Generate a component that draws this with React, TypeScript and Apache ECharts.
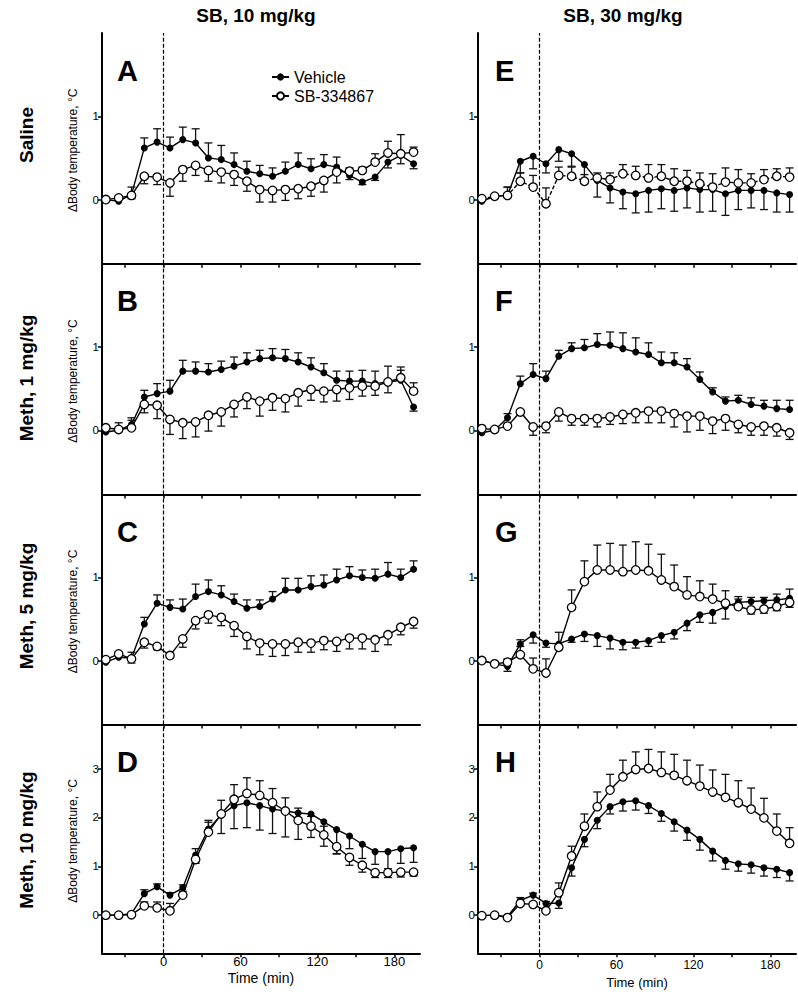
import React, { useEffect, useRef } from "react";
import * as echarts from "echarts";

// ---------- data ----------
const TIME = [-45, -35, -25, -15, -5, 5, 15, 25, 35, 45, 55, 65, 75, 85, 95, 105, 115, 125, 135, 145, 155, 165, 175, 185, 195];

const X_TICKS = [-30, 0, 30, 60, 90, 120, 150, 180];
const X_LABELS = [0, 60, 120, 180];
const Y_LABELS_SMALL = [0, 1];
const Y_LABELS_BIG = [0, 1, 2, 3];

const COLUMN_TITLES = ["SB, 10 mg/kg", "SB, 30 mg/kg"];
const ROW_TITLES = ["Saline", "Meth, 1 mg/kg", "Meth, 5 mg/kg", "Meth, 10 mg/kg"];
const LETTERS = ["A", "B", "C", "D", "E", "F", "G", "H"];
const SERIES_NAMES = ["Vehicle", "SB-334867"];
const Y_NAME = "ΔBody temperature, °C";
const X_NAME = "Time (min)";

// Panel A (Saline, SB 10)
const vehA = [0, -0.02, 0.06, 0.62, 0.69, 0.62, 0.72, 0.68, 0.5, 0.48, 0.42, 0.34, 0.31, 0.28, 0.34, 0.42, 0.37, 0.42, 0.39, 0.29, 0.21, 0.27, 0.45, 0.53, 0.43];
const vehAErr = [0, 0, 0.09, 0.12, 0.16, 0.13, 0.15, 0.17, 0.18, 0.17, 0.14, 0.12, 0.1, 0.1, 0.11, 0.14, 0.12, 0.12, 0.12, -0.05, -0.03, -0.04, -0.07, -0.1, -0.06];
const sbA = [0, 0.02, 0.05, 0.28, 0.27, 0.2, 0.36, 0.41, 0.35, 0.33, 0.3, 0.22, 0.12, 0.11, 0.12, 0.13, 0.16, 0.23, 0.33, 0.34, 0.35, 0.45, 0.56, 0.55, 0.57];
const sbAErr = [0, 0, -0.04, -0.09, -0.09, -0.16, -0.14, -0.12, -0.13, -0.13, -0.13, -0.12, -0.15, -0.14, -0.13, -0.12, -0.12, -0.14, -0.13, 0.04, 0.04, 0.1, 0.14, 0.23, 0.06];

// Panel B (Meth 1, SB 10)
const vehB = [-0.02, 0, 0.07, 0.4, 0.44, 0.47, 0.71, 0.71, 0.7, 0.73, 0.77, 0.82, 0.86, 0.87, 0.86, 0.82, 0.76, 0.69, 0.6, 0.59, 0.59, 0.56, 0.58, 0.6, 0.28];
const vehBErr = [0, 0, 0.05, 0.08, 0.12, 0.13, 0.13, 0.11, 0.1, 0.1, 0.11, 0.11, 0.1, 0.11, 0.11, 0.11, 0.11, 0.11, 0.11, 0.12, 0.13, 0.15, 0.19, 0.12, -0.05];
const sbB = [0.03, 0.01, 0.03, 0.31, 0.3, 0.13, 0.09, 0.1, 0.18, 0.22, 0.31, 0.4, 0.35, 0.39, 0.38, 0.45, 0.49, 0.47, 0.49, 0.51, 0.53, 0.53, 0.58, 0.63, 0.47];
const sbBErr = [0, 0.08, 0.12, -0.1, -0.16, -0.18, -0.19, -0.18, -0.19, -0.17, -0.15, -0.14, -0.18, -0.15, -0.16, -0.16, -0.13, -0.13, -0.14, -0.14, -0.12, -0.11, -0.13, 0.13, 0.1];

// Panel C (Meth 5, SB 10)
const vehC = [-0.02, 0.04, 0.03, 0.44, 0.69, 0.64, 0.62, 0.77, 0.83, 0.79, 0.71, 0.63, 0.65, 0.74, 0.85, 0.85, 0.89, 0.91, 0.97, 1.02, 1.0, 0.99, 1.04, 1.0, 1.1];
const vehCErr = [0, 0, 0.07, 0.08, 0.1, 0.09, 0.12, 0.15, 0.14, 0.11, 0.09, 0.1, 0.08, 0.09, 0.14, 0.14, 0.13, 0.12, 0.13, 0.11, 0.09, 0.11, 0.14, 0.1, 0.1];
const sbC = [0.01, 0.08, 0.02, 0.22, 0.17, 0.06, 0.26, 0.48, 0.55, 0.52, 0.42, 0.29, 0.21, 0.2, 0.2, 0.22, 0.21, 0.24, 0.23, 0.27, 0.27, 0.25, 0.31, 0.4, 0.47];
const sbCErr = [0, 0, -0.05, -0.07, -0.04, -0.03, -0.1, -0.1, -0.1, -0.1, -0.13, -0.15, -0.14, -0.15, -0.14, -0.12, -0.11, -0.11, -0.12, -0.13, -0.13, -0.14, -0.12, -0.09, -0.08];

// Panel D (Meth 10, SB 10)
const vehD = [0, 0, 0.03, 0.44, 0.58, 0.41, 0.56, 1.23, 1.76, 2.05, 2.24, 2.3, 2.24, 2.17, 2.13, 2.09, 2.07, 1.91, 1.75, 1.62, 1.45, 1.3, 1.3, 1.36, 1.38];
const vehDErr = [0, 0, 0, 0.08, 0.06, 0.05, 0.06, 0.13, 0.18, -0.38, -0.47, -0.51, -0.5, -0.5, -0.53, -0.54, -0.48, -0.5, -0.5, -0.26, -0.29, -0.26, -0.35, -0.3, -0.3];
const sbD = [0, 0, 0.01, 0.19, 0.15, 0.09, 0.41, 1.14, 1.7, 2.07, 2.37, 2.49, 2.45, 2.3, 2.13, 1.94, 1.82, 1.64, 1.4, 1.18, 1.02, 0.87, 0.87, 0.88, 0.88];
const sbDErr = [0, 0, 0, 0.08, 0.12, 0.15, 0.08, -0.08, 0.2, 0.28, 0.3, 0.32, 0.3, 0.29, 0.27, 0.25, 0.2, 0.18, -0.14, -0.16, -0.14, -0.1, -0.1, -0.1, -0.08];

// Panel E (Saline, SB 30)
const vehE = [-0.02, 0.04, 0.05, 0.46, 0.52, 0.43, 0.6, 0.55, 0.42, 0.23, 0.14, 0.09, 0.07, 0.11, 0.13, 0.11, 0.14, 0.12, 0.12, 0.07, 0.11, 0.11, 0.11, 0.08, 0.06];
const vehEErr = [0, 0, 0.1, -0.14, -0.15, -0.11, -0.14, -0.15, -0.18, -0.2, -0.18, -0.2, -0.23, -0.26, -0.24, -0.25, -0.24, -0.27, -0.26, -0.26, -0.23, -0.21, -0.23, -0.23, -0.21];
const sbE = [0.01, 0.04, 0.05, 0.22, 0.15, -0.05, 0.29, 0.28, 0.22, 0.26, 0.24, 0.31, 0.29, 0.26, 0.28, 0.22, 0.22, 0.19, 0.15, 0.21, 0.2, 0.2, 0.24, 0.28, 0.27];
const sbEErr = [0, 0, 0.1, 0.1, 0.14, 0.19, 0.1, 0.11, 0.08, 0.06, 0.08, 0.11, 0.11, 0.16, 0.14, 0.15, 0.13, 0.13, 0.16, 0.17, 0.16, 0.11, 0.12, 0.09, 0.11];

// Panel F (Meth 1, SB 30)
const vehF = [-0.03, 0, 0.15, 0.56, 0.67, 0.62, 0.89, 0.98, 0.99, 1.03, 1.02, 0.98, 0.94, 0.91, 0.81, 0.81, 0.76, 0.61, 0.46, 0.35, 0.36, 0.31, 0.29, 0.26, 0.25];
const vehFErr = [0, 0, 0.05, 0.09, 0.13, 0.09, 0.07, 0.07, 0.1, 0.13, 0.16, 0.19, 0.17, 0.14, 0.13, 0.12, 0.1, 0.09, 0.05, 0.05, 0.06, 0.08, 0.07, 0.1, 0.11];
const sbF = [0.02, 0.01, 0.05, 0.22, 0.04, 0.05, 0.22, 0.14, 0.14, 0.14, 0.16, 0.19, 0.21, 0.23, 0.23, 0.2, 0.17, 0.17, 0.11, 0.14, 0.07, 0.04, 0.05, 0.03, -0.03];
const sbFErr = [0, 0, 0, -0.04, -0.1, -0.08, -0.11, -0.08, -0.08, -0.1, -0.09, -0.11, -0.12, -0.14, -0.14, -0.16, -0.19, -0.17, -0.15, -0.14, -0.1, -0.1, -0.11, -0.1, -0.08];

// Panel G (Meth 5, SB 30)
const vehG = [0, -0.04, -0.07, 0.2, 0.31, 0.21, 0.2, 0.26, 0.32, 0.3, 0.27, 0.22, 0.22, 0.24, 0.3, 0.34, 0.45, 0.55, 0.58, 0.65, 0.7, 0.71, 0.72, 0.73, 0.75];
const vehGErr = [0, 0, -0.06, 0.05, -0.1, -0.05, 0, -0.04, -0.09, -0.13, -0.13, -0.09, -0.07, -0.07, -0.08, -0.08, -0.09, -0.09, -0.13, -0.15, 0.07, 0.05, 0.04, 0.07, 0.11];
const sbG = [0, -0.04, -0.02, 0.07, -0.1, -0.15, 0.16, 0.64, 0.95, 1.09, 1.09, 1.07, 1.09, 1.08, 0.97, 0.89, 0.79, 0.77, 0.74, 0.69, 0.65, 0.61, 0.62, 0.65, 0.7];
const sbGErr = [0, 0, 0.04, 0.1, 0.13, 0.17, 0.18, 0.21, 0.25, 0.3, 0.32, 0.32, 0.34, 0.32, 0.31, 0.26, 0.22, 0.19, 0.18, 0.15, 0.09, -0.05, -0.05, -0.05, -0.06];

// Panel H (Meth 10, SB 30)
const vehH = [-0.01, 0, -0.03, 0.3, 0.41, 0.24, 0.25, 0.97, 1.55, 1.94, 2.22, 2.32, 2.34, 2.24, 2.08, 1.91, 1.74, 1.55, 1.31, 1.12, 1.05, 1.03, 0.97, 0.94, 0.87];
const vehHErr = [0, 0, 0, 0.06, 0.04, 0.04, -0.11, -0.17, -0.15, -0.17, -0.15, -0.19, -0.19, -0.16, -0.16, -0.19, -0.21, -0.22, -0.2, -0.18, -0.15, -0.17, -0.17, -0.17, -0.17];
const sbH = [-0.01, 0, -0.05, 0.24, 0.22, 0.09, 0.46, 1.21, 1.82, 2.22, 2.56, 2.83, 2.98, 3.0, 2.92, 2.86, 2.75, 2.64, 2.52, 2.41, 2.3, 2.17, 1.99, 1.72, 1.47];
const sbHErr = [0, 0, 0, 0.04, 0.04, 0.04, 0.2, 0.2, 0.25, 0.3, 0.32, 0.34, 0.36, 0.39, 0.42, 0.43, 0.42, 0.43, 0.45, 0.47, 0.45, 0.43, 0.4, 0.35, 0.32];

const PANEL_DATA = [
  [vehA, vehAErr, sbA, sbAErr],
  [vehB, vehBErr, sbB, sbBErr],
  [vehC, vehCErr, sbC, sbCErr],
  [vehD, vehDErr, sbD, sbDErr],
  [vehE, vehEErr, sbE, sbEErr],
  [vehF, vehFErr, sbF, sbFErr],
  [vehG, vehGErr, sbG, sbGErr],
  [vehH, vehHErr, sbH, sbHErr],
];

// ---------- layout ----------
const FONT = '"Liberation Sans", Arial, Helvetica, sans-serif';
const COL_LEFT = [102, 478];
const GRID_W = 318;
const ROW_TOP = [33, 263.7, 494.4, 724.5];
const ROW_H = [230.7, 230.7, 230.1, 228.8];

function errRender(params: any, api: any) {
  const x = api.value(0);
  const y = api.value(1);
  const e = api.value(2);
  if (!e) return null;
  const p0 = api.coord([x, y]);
  const p1 = api.coord([x, y + e]);
  const st = { stroke: "#111", lineWidth: 1.3 };
  return {
    type: "group",
    children: [
      { type: "line", shape: { x1: p0[0], y1: p0[1], x2: p1[0], y2: p1[1] }, style: st },
      { type: "line", shape: { x1: p1[0] - 4, y1: p1[1], x2: p1[0] + 4, y2: p1[1] }, style: st },
    ],
  };
}

function buildOption() {
  const grid: any[] = [];
  const xAxis: any[] = [];
  const yAxis: any[] = [];
  const series: any[] = [];
  const graphic: any[] = [];

  for (let p = 0; p < 8; p++) {
    const col = p < 4 ? 0 : 1;
    const row = p % 4;
    const big = row === 3;
    grid.push({ left: COL_LEFT[col], top: ROW_TOP[row], width: GRID_W, height: ROW_H[row], containLabel: false });
    xAxis.push({
      gridIndex: p,
      type: "value",
      min: -48,
      max: 200,
      axisLine: { show: true, onZero: false, lineStyle: { color: "#000", width: 2 } },
      axisTick: { show: true, length: 4, customValues: X_TICKS, lineStyle: { color: "#000", width: 1.5 } },
      axisLabel: {
        show: big,
        customValues: X_LABELS,
        color: "#000",
        fontFamily: FONT,
        fontSize: col === 0 ? 13 : 12,
        margin: col === 0 ? 2 : 6,
      },
      splitLine: { show: false },
      name: big ? X_NAME : "",
      nameLocation: "middle",
      nameGap: col === 0 ? 18 : 23,
      nameTextStyle: { color: "#000", fontFamily: FONT, fontSize: col === 0 ? 14 : 13 },
    });
    const yl = big ? Y_LABELS_BIG : Y_LABELS_SMALL;
    yAxis.push({
      gridIndex: p,
      type: "value",
      min: big ? -0.78 : -0.77,
      max: big ? 3.9 : 2.0,
      axisLine: { show: true, onZero: false, lineStyle: { color: "#000", width: 2 } },
      axisTick: { show: true, length: 4, customValues: yl, lineStyle: { color: "#000", width: 1.5 } },
      axisLabel: { show: true, customValues: yl, color: "#000", fontFamily: FONT, fontSize: 11.5, margin: 3 },
      splitLine: { show: false },
    });

    const [veh, vehErr, sb, sbErr] = PANEL_DATA[p];
    series.push({
      type: "custom",
      name: "err-veh-" + p,
      xAxisIndex: p,
      yAxisIndex: p,
      silent: true,
      z: 2,
      renderItem: errRender,
      encode: { x: 0, y: 1 },
      data: TIME.map((t, i) => [t, veh[i], vehErr[i]]),
    });
    series.push({
      type: "custom",
      name: "err-sb-" + p,
      xAxisIndex: p,
      yAxisIndex: p,
      silent: true,
      z: 2,
      renderItem: errRender,
      encode: { x: 0, y: 1 },
      data: TIME.map((t, i) => [t, sb[i], sbErr[i]]),
    });
    series.push({
      type: "line",
      name: SERIES_NAMES[0],
      xAxisIndex: p,
      yAxisIndex: p,
      z: 3,
      symbol: "circle",
      symbolSize: 7,
      itemStyle: { color: "#000" },
      lineStyle: { color: "#000", width: 1.4 },
      data: TIME.map((t, i) => [t, veh[i]]),
      markLine: {
        silent: true,
        symbol: ["none", "none"],
        label: { show: false },
        lineStyle: { color: "#000", type: [4, 2], width: 1.2 },
        data: [{ xAxis: 0 }],
      },
    });
    series.push({
      type: "line",
      name: SERIES_NAMES[1],
      xAxisIndex: p,
      yAxisIndex: p,
      z: 4,
      symbol: "circle",
      symbolSize: 8.5,
      itemStyle: { color: "#fff", borderColor: "#000", borderWidth: 1.3 },
      lineStyle: { color: "#000", width: 1.4, type: p === 4 ? [4, 2] : "solid" },
      data: TIME.map((t, i) => [t, sb[i]]),
    });

    graphic.push({
      type: "text",
      x: COL_LEFT[col] + (col === 0 ? 15 : 17),
      y: ROW_TOP[row] + 37.5,
      style: { text: LETTERS[p], font: `bold 29px ${FONT}`, fill: "#000", textAlign: "left", textVerticalAlign: "middle" },
    });
    if (col === 0) {
      graphic.push({
        type: "text",
        x: 73,
        y: ROW_TOP[row] + ROW_H[row] / 2 + 2,
        rotation: Math.PI / 2,
        style: { text: Y_NAME, font: `12px ${FONT}`, fill: "#000", textAlign: "center", textVerticalAlign: "middle" },
      });
    }
  }

  const rowCenters = [135, 378, 606, 840];
  ROW_TITLES.forEach((t, r) => {
    graphic.push({
      type: "text",
      x: 26,
      y: rowCenters[r],
      rotation: Math.PI / 2,
      style: { text: t, font: `bold 19px ${FONT}`, fill: "#000", textAlign: "center", textVerticalAlign: "middle" },
    });
  });
  const colCenters = [256, 623];
  COLUMN_TITLES.forEach((t, c) => {
    graphic.push({
      type: "text",
      x: colCenters[c],
      y: 15,
      style: { text: t, font: `bold 19px ${FONT}`, fill: "#000", textAlign: "center", textVerticalAlign: "middle" },
    });
  });

  return {
    animation: false,
    backgroundColor: "#fff",
    grid,
    xAxis,
    yAxis,
    series,
    graphic,
    legend: {
      data: SERIES_NAMES,
      orient: "vertical",
      left: 266,
      top: 64,
      itemWidth: 17,
      itemHeight: 9,
      itemGap: 3,
      selectedMode: false,
      textStyle: { color: "#000", fontSize: 16, fontFamily: FONT },
    },
  };
}

export default function App() {
  const ref = useRef<HTMLDivElement>(null);
  useEffect(() => {
    if (!ref.current) return;
    const chart = echarts.init(ref.current, null, { renderer: "svg" });
    chart.setOption(buildOption() as any);
    return () => chart.dispose();
  }, []);
  return <div ref={ref} style={{ position: "fixed", left: 0, top: 0, width: 798, height: 996, background: "#fff" }} />;
}
